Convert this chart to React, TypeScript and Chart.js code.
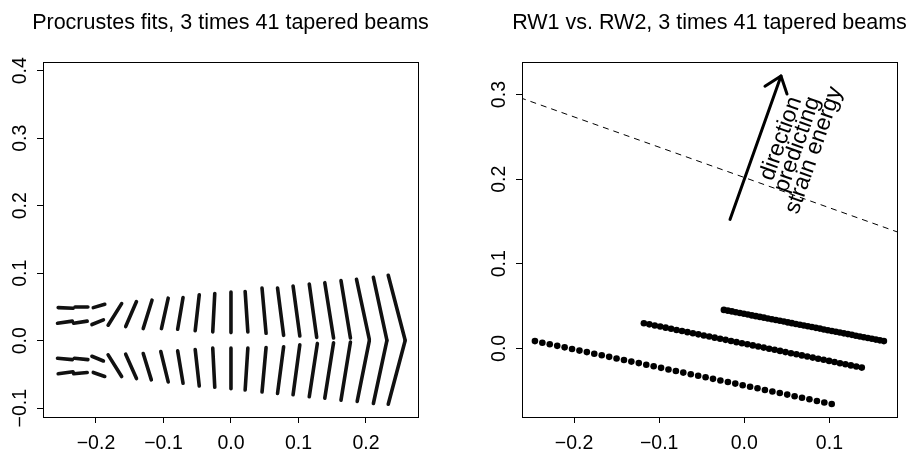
import { useEffect, useRef } from "react";
import { Chart, registerables } from "chart.js";

Chart.register(...registerables);

const FONT = '"Liberation Sans", Arial, Helvetica, sans-serif';

// ---------- Left panel: Procrustes fits ----------
const LEFT_TITLE = "Procrustes fits, 3 times 41 tapered beams";
const LEFT_X_TICKS = [-0.2, -0.1, 0.0, 0.1, 0.2];
const LEFT_Y_TICKS = [-0.1, 0.0, 0.1, 0.2, 0.3, 0.4];
const LEFT_X_RANGE = [-0.2785, 0.2771];
const LEFT_Y_RANGE = [-0.113, 0.4129];

// each landmark scatter read as a short stroke: [x1, y1, x2, y2]
const UPPER_MARKS = [
  [-0.256, 0.049, -0.234, 0.048],
  [-0.257, 0.026, -0.235, 0.029],
  [-0.231, 0.05, -0.212, 0.05],
  [-0.233, 0.026, -0.213, 0.029],
  [-0.204, 0.049, -0.187, 0.054],
  [-0.206, 0.024, -0.189, 0.031],
  [-0.182, 0.023, -0.162, 0.055],
  [-0.156, 0.021, -0.14, 0.058],
  [-0.13, 0.018, -0.117, 0.06],
  [-0.103, 0.018, -0.093, 0.063],
  [-0.079, 0.017, -0.071, 0.064],
  [-0.053, 0.015, -0.047, 0.068],
  [-0.027, 0.013, -0.024, 0.07],
  [0.0, 0.012, 0.0, 0.072],
  [0.025, 0.013, 0.021, 0.073],
  [0.052, 0.011, 0.046, 0.078],
  [0.078, 0.008, 0.069, 0.078],
  [0.102, 0.007, 0.092, 0.081],
  [0.127, 0.005, 0.116, 0.084],
  [0.152, 0.004, 0.139, 0.086],
  [0.177, 0.004, 0.163, 0.089],
  [0.205, 0.002, 0.186, 0.091],
  [0.231, 0.001, 0.211, 0.094],
  [0.258, 0.001, 0.233, 0.097],
];
const LOWER_MARKS = [
  [-0.257, -0.026, -0.235, -0.028],
  [-0.256, -0.049, -0.234, -0.046],
  [-0.232, -0.026, -0.212, -0.028],
  [-0.233, -0.049, -0.213, -0.047],
  [-0.206, -0.023, -0.189, -0.03],
  [-0.204, -0.047, -0.187, -0.053],
  [-0.182, -0.021, -0.162, -0.053],
  [-0.156, -0.02, -0.14, -0.056],
  [-0.13, -0.019, -0.118, -0.058],
  [-0.104, -0.016, -0.093, -0.061],
  [-0.079, -0.015, -0.071, -0.063],
  [-0.053, -0.013, -0.047, -0.067],
  [-0.027, -0.011, -0.024, -0.069],
  [0.0, -0.011, 0.0, -0.071],
  [0.025, -0.011, 0.021, -0.073],
  [0.052, -0.01, 0.046, -0.076],
  [0.078, -0.009, 0.069, -0.078],
  [0.102, -0.006, 0.092, -0.08],
  [0.128, -0.004, 0.116, -0.083],
  [0.152, -0.003, 0.139, -0.085],
  [0.177, -0.002, 0.163, -0.088],
  [0.205, 0.0, 0.187, -0.09],
  [0.231, 0.0, 0.211, -0.093],
  [0.258, 0.0, 0.233, -0.094],
];

// ---------- Right panel: RW1 vs RW2 ----------
const RIGHT_TITLE = "RW1 vs. RW2, 3 times 41 tapered beams";
const RIGHT_X_TICKS = [-0.2, -0.1, 0.0, 0.1];
const RIGHT_Y_TICKS = [0.0, 0.1, 0.2, 0.3];
const RIGHT_X_RANGE = [-0.2612, 0.1794];
const RIGHT_Y_RANGE = [-0.0811, 0.3385];

const SET1_X = [-0.246, -0.2373, -0.2286, -0.2198, -0.2111, -0.2024, -0.1937, -0.185, -0.1763, -0.1675, -0.1588, -0.1501, -0.1414, -0.1327, -0.124, -0.1152, -0.1065, -0.0978, -0.0891, -0.0804, -0.0717, -0.0629, -0.0542, -0.0455, -0.0368, -0.0281, -0.0193, -0.0106, -0.0019, 0.0068, 0.0155, 0.0242, 0.033, 0.0417, 0.0504, 0.0591, 0.0678, 0.0765, 0.0853, 0.094, 0.1027];
const SET1_Y = [0.0086, 0.0067, 0.0049, 0.003, 0.0012, -0.0007, -0.0026, -0.0044, -0.0063, -0.0081, -0.01, -0.0119, -0.0137, -0.0156, -0.0174, -0.0193, -0.0212, -0.023, -0.0249, -0.0267, -0.0286, -0.0305, -0.0323, -0.0342, -0.036, -0.0379, -0.0398, -0.0416, -0.0435, -0.0453, -0.0472, -0.0491, -0.0509, -0.0528, -0.0546, -0.0565, -0.0584, -0.0602, -0.0621, -0.0639, -0.0658];
const SET2_X = [-0.118, -0.1116, -0.1052, -0.0988, -0.0924, -0.086, -0.0796, -0.0732, -0.0668, -0.0604, -0.054, -0.0476, -0.0412, -0.0348, -0.0284, -0.022, -0.0156, -0.0092, -0.0028, 0.0036, 0.01, 0.0164, 0.0228, 0.0292, 0.0356, 0.042, 0.0484, 0.0548, 0.0612, 0.0676, 0.074, 0.0804, 0.0868, 0.0932, 0.0996, 0.106, 0.1124, 0.1188, 0.1252, 0.1316, 0.138];
const SET2_Y = [0.0297, 0.0284, 0.0271, 0.0258, 0.0245, 0.0232, 0.0218, 0.0205, 0.0192, 0.0179, 0.0166, 0.0153, 0.014, 0.0127, 0.0114, 0.0101, 0.0087, 0.0074, 0.0061, 0.0048, 0.0035, 0.0022, 0.0009, -0.0004, -0.0017, -0.003, -0.0044, -0.0057, -0.007, -0.0083, -0.0096, -0.0109, -0.0122, -0.0135, -0.0148, -0.0161, -0.0175, -0.0188, -0.0201, -0.0214, -0.0227];
const SET3_X = [-0.024, -0.0193, -0.0146, -0.0099, -0.0052, -0.0005, 0.0042, 0.0089, 0.0136, 0.0183, 0.023, 0.0277, 0.0324, 0.0371, 0.0418, 0.0465, 0.0512, 0.0559, 0.0606, 0.0653, 0.07, 0.0747, 0.0794, 0.0841, 0.0888, 0.0935, 0.0982, 0.1029, 0.1076, 0.1123, 0.117, 0.1217, 0.1264, 0.1311, 0.1358, 0.1405, 0.1452, 0.1499, 0.1546, 0.1593, 0.164];
const SET3_Y = [0.0455, 0.0446, 0.0437, 0.0427, 0.0418, 0.0409, 0.04, 0.039, 0.0381, 0.0372, 0.0363, 0.0353, 0.0344, 0.0335, 0.0326, 0.0317, 0.0307, 0.0298, 0.0289, 0.028, 0.027, 0.0261, 0.0252, 0.0243, 0.0234, 0.0224, 0.0215, 0.0206, 0.0197, 0.0187, 0.0178, 0.0169, 0.016, 0.015, 0.0141, 0.0132, 0.0123, 0.0114, 0.0104, 0.0095, 0.0086];

const DASH_X = [-0.3, 0.2];
const DASH_Y = [0.3094, 0.1304];

const ARROW_FROM = [-0.0168, 0.1524];
const ARROW_TO = [0.0431, 0.322];
const NOTE_LINES = ["direction", "predicting", "strain energy"];
const NOTE_AT = [0.0625, 0.241];
const NOTE_ANGLE = 70.5;

// ---------- helpers ----------
const fmt = (v: number) =>
  (Math.abs(v) < 1e-9 ? "0.0" : v.toFixed(1)).replace("-", "\u2212");

const zip = (xs: number[], ys: number[]) => xs.map((x, i) => ({ x, y: ys[i] }));

const segData = (marks: number[][]) => {
  const out: any[] = [];
  marks.forEach(([x1, y1, x2, y2]) => {
    out.push({ x: x1, y: y1 }, { x: x2, y: y2 }, { x: x2, y: null });
  });
  return out;
};

const gridOpts = {
  display: true,
  drawOnChartArea: false,
  drawTicks: true,
  tickLength: 6,
  color: "#000",
  lineWidth: 1,
};

function makeScales(xr: number[], yr: number[], xt: number[], yt: number[], yWidth: number) {
  return {
    x: {
      type: "linear" as const,
      min: xr[0],
      max: xr[1],
      afterBuildTicks: (s: any) => {
        s.ticks = xt.map((v) => ({ value: v }));
      },
      afterFit: (s: any) => {
        s.height = 38;
      },
      grid: gridOpts,
      border: { display: false },
      ticks: {
        callback: (v: any) => fmt(Number(v)),
        font: { family: FONT, size: 19.5 },
        color: "#000",
        padding: 9,
        maxRotation: 0,
        autoSkip: false,
      },
    },
    y: {
      type: "linear" as const,
      min: yr[0],
      max: yr[1],
      afterBuildTicks: (s: any) => {
        s.ticks = yt.map((v) => ({ value: v }));
      },
      afterFit: (s: any) => {
        s.width = yWidth;
      },
      grid: gridOpts,
      border: { display: false },
      ticks: { display: false },
    },
  };
}

function framePlugin(title: string) {
  return {
    id: "frame_" + title.length,
    afterDraw(chart: any) {
      const { ctx, chartArea: a, scales } = chart;
      ctx.save();
      ctx.strokeStyle = "#000";
      ctx.lineWidth = 1;
      ctx.strokeRect(a.left + 0.5, a.top + 0.5, a.right - a.left, a.bottom - a.top);
      // y tick labels, parallel to the axis
      ctx.fillStyle = "#000";
      ctx.font = `19.5px ${FONT}`;
      ctx.textAlign = "center";
      ctx.textBaseline = "middle";
      const ys = scales.y;
      ys.ticks.forEach((t: any) => {
        const py = ys.getPixelForValue(t.value);
        ctx.save();
        ctx.translate(a.left - 22, py);
        ctx.rotate(-Math.PI / 2);
        ctx.fillText(fmt(t.value), 0, 0);
        ctx.restore();
      });
      // title
      ctx.font = `21.5px ${FONT}`;
      ctx.textBaseline = "alphabetic";
      ctx.fillText(title, (a.left + a.right) / 2, 29);
      ctx.restore();
    },
  };
}

const notePlugin = {
  id: "note",
  afterDatasetsDraw(chart: any) {
    const { ctx, scales } = chart;
    const xs = scales.x;
    const ys = scales.y;
    const x0 = xs.getPixelForValue(ARROW_FROM[0]);
    const y0 = ys.getPixelForValue(ARROW_FROM[1]);
    const x1 = xs.getPixelForValue(ARROW_TO[0]);
    const y1 = ys.getPixelForValue(ARROW_TO[1]);
    ctx.save();
    ctx.strokeStyle = "#000";
    ctx.lineWidth = 3;
    ctx.lineCap = "round";
    ctx.lineJoin = "round";
    ctx.beginPath();
    ctx.moveTo(x0, y0);
    ctx.lineTo(x1, y1);
    ctx.stroke();
    const ang = Math.atan2(y1 - y0, x1 - x0);
    const L = 19;
    const h = (38 * Math.PI) / 180;
    ctx.beginPath();
    ctx.moveTo(x1 - L * Math.cos(ang - h), y1 - L * Math.sin(ang - h));
    ctx.lineTo(x1, y1);
    ctx.lineTo(x1 - L * Math.cos(ang + h), y1 - L * Math.sin(ang + h));
    ctx.stroke();

    const cx = xs.getPixelForValue(NOTE_AT[0]);
    const cy = ys.getPixelForValue(NOTE_AT[1]);
    ctx.translate(cx, cy);
    ctx.rotate((-NOTE_ANGLE * Math.PI) / 180);
    ctx.fillStyle = "#000";
    ctx.font = `23px ${FONT}`;
    ctx.textAlign = "center";
    ctx.textBaseline = "middle";
    NOTE_LINES.forEach((s, i) => {
      ctx.fillText(s, 0, (i - 1) * 17.5);
    });
    ctx.restore();
  },
};

export default function App() {
  const leftRef = useRef<HTMLCanvasElement>(null);
  const rightRef = useRef<HTMLCanvasElement>(null);

  useEffect(() => {
    document.body.style.margin = "0";
    document.body.style.background = "#fff";

    const markStyle = {
      borderColor: "#111",
      borderWidth: 3.6,
      borderCapStyle: "round" as const,
      pointRadius: 0,
      pointHoverRadius: 0,
      spanGaps: false,
      tension: 0,
      fill: false,
    };

    const left = new Chart(leftRef.current as HTMLCanvasElement, {
      type: "line",
      data: {
        datasets: [
          { label: "upper", data: segData(UPPER_MARKS), ...markStyle },
          { label: "lower", data: segData(LOWER_MARKS), ...markStyle },
        ],
      },
      options: {
        responsive: false,
        animation: false,
        layout: { padding: { top: 62, left: 0, right: 42, bottom: 0 } },
        plugins: { legend: { display: false }, tooltip: { enabled: false }, title: { display: false } },
        scales: makeScales(LEFT_X_RANGE, LEFT_Y_RANGE, LEFT_X_TICKS, LEFT_Y_TICKS, 43) as any,
      },
      plugins: [framePlugin(LEFT_TITLE)],
    });

    const dotStyle = {
      pointRadius: 3.3,
      pointHoverRadius: 3.3,
      pointBackgroundColor: "#000",
      pointBorderWidth: 0,
      showLine: false,
    };

    const right = new Chart(rightRef.current as HTMLCanvasElement, {
      type: "scatter",
      data: {
        datasets: [
          { label: "set1", data: zip(SET1_X, SET1_Y), ...dotStyle },
          { label: "set2", data: zip(SET2_X, SET2_Y), ...dotStyle },
          { label: "set3", data: zip(SET3_X, SET3_Y), ...dotStyle },
          {
            label: "direction",
            data: zip(DASH_X, DASH_Y),
            showLine: true,
            borderColor: "#000",
            borderWidth: 1,
            borderDash: [6, 5],
            pointRadius: 0,
            pointHoverRadius: 0,
          },
        ],
      },
      options: {
        responsive: false,
        animation: false,
        layout: { padding: { top: 62, left: 0, right: 22, bottom: 0 } },
        plugins: { legend: { display: false }, tooltip: { enabled: false }, title: { display: false } },
        scales: makeScales(RIGHT_X_RANGE, RIGHT_Y_RANGE, RIGHT_X_TICKS, RIGHT_Y_TICKS, 62) as any,
      },
      plugins: [framePlugin(RIGHT_TITLE), notePlugin],
    });

    return () => {
      left.destroy();
      right.destroy();
    };
  }, []);

  return (
    <div style={{ position: "relative", width: 919, height: 455, background: "#fff" }}>
      <canvas
        ref={leftRef}
        width={460}
        height={455}
        style={{ position: "absolute", left: 0, top: 0, display: "block" }}
      />
      <canvas
        ref={rightRef}
        width={459}
        height={455}
        style={{ position: "absolute", left: 460, top: 0, display: "block" }}
      />
    </div>
  );
}
